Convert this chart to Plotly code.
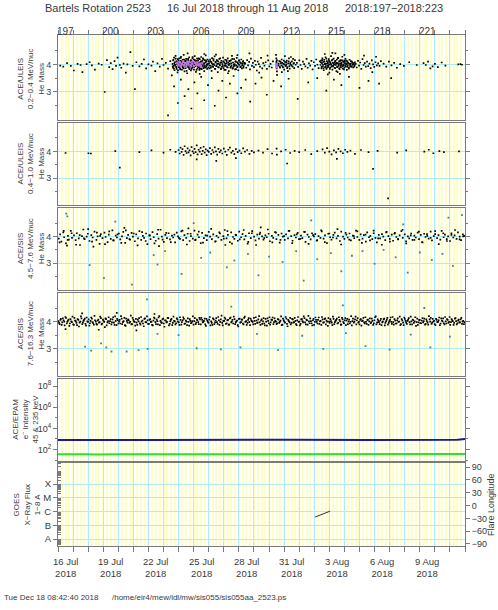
import plotly.graph_objects as go

# ---------------- data (day of year 2018) ----------------
# ACE/ULEIS 0.2-0.4 MeV/nuc He mass
he1_doy = [
    197.15,197.35,197.60,197.85,198.05,198.30,198.50,198.62,198.90,199.10,
    199.25,199.45,199.70,199.90,200.10,200.25,200.40,200.50,200.62,200.75,
    200.85,200.95,201.10,201.20,201.35,201.50,201.60,201.80,201.95,202.10,
    202.20,202.40,202.55,202.70,202.85,203.00,203.20,203.30,203.45,203.60,
    203.75,203.90,204.00,204.15,204.30,204.45,204.55,
    204.60,204.63,204.64,204.68,204.70,204.73,204.75,204.76,204.80,204.83,
    204.85,204.87,204.90,204.93,204.95,204.97,205.00,205.02,205.05,205.07,
    205.10,205.12,205.15,205.16,205.20,205.22,205.24,205.27,205.30,205.31,
    205.34,205.37,205.39,205.42,205.44,205.46,205.50,205.52,205.54,205.57,
    205.59,205.62,205.64,205.66,205.70,205.72,205.75,205.77,205.79,205.82,
    205.84,205.87,205.90,205.92,205.94,205.97,206.00,206.02,206.05,206.07,
    206.10,206.13,206.15,206.17,206.20,206.23,206.25,206.28,206.30,206.33,
    206.35,206.38,206.40,206.43,206.45,206.48,206.50,206.52,206.55,206.58,
    206.60,206.62,206.65,206.68,206.70,206.73,206.75,206.78,206.80,206.83,
    206.85,206.88,206.90,206.92,206.95,206.97,206.99,206.70,206.40,205.60,
    204.61,204.66,204.69,204.72,204.78,204.81,204.86,204.88,204.92,204.96,
    204.99,205.04,205.09,205.11,205.14,205.18,205.21,205.26,205.29,205.33,
    205.36,205.41,205.45,205.48,205.53,205.55,205.60,205.63,205.68,205.71,
    205.74,205.78,205.81,205.86,205.89,205.93,205.96,206.01,206.04,206.08,
    206.12,206.16,206.19,206.22,206.27,206.31,206.34,206.39,206.42,206.46,
    206.49,206.53,206.57,206.61,206.64,206.69,206.72,206.77,206.82,206.87,
    207.02,207.05,207.09,207.12,207.15,207.19,207.22,207.26,207.29,207.32,
    207.36,207.39,207.43,207.46,207.50,207.53,207.56,207.60,207.63,207.67,
    207.70,207.74,207.77,207.81,207.84,207.88,207.91,207.95,207.98,208.02,
    208.05,208.09,208.12,208.16,208.19,208.23,208.26,208.30,208.33,208.37,
    208.40,208.44,208.47,208.51,208.54,208.58,208.61,208.65,208.68,208.72,
    208.75,208.79,208.82,208.86,208.89,208.93,208.96,209.00,209.04,209.08,
    209.12,209.16,209.20,209.24,209.28,209.32,209.36,207.48,208.28,208.90,
    207.04,207.10,207.14,207.20,207.24,207.31,207.34,207.41,207.45,207.51,
    207.55,207.62,207.65,207.72,207.76,207.83,207.86,207.93,207.97,208.04,
    208.08,208.14,208.18,208.25,208.29,208.35,208.39,208.46,208.50,208.56,
    208.60,208.67,208.71,208.77,208.81,208.88,208.92,208.98,209.02,209.10,
    209.14,209.22,209.26,209.30,209.38,
    209.42,209.49,209.55,209.61,209.68,209.74,209.80,209.87,209.93,210.00,
    210.06,210.12,210.19,210.25,210.32,210.40,210.47,210.55,210.62,210.70,
    210.78,210.86,210.94,211.02,211.10,211.18,211.26,209.70,210.35,210.90,
    211.46,211.48,211.49,211.50,211.51,211.52,211.53,211.50,211.49,211.52,
    211.62,211.68,211.73,211.79,211.84,211.90,211.95,212.01,212.06,212.12,
    212.17,212.22,212.27,212.32,212.37,212.42,212.47,212.52,212.57,212.62,
    212.67,212.72,212.77,212.05,212.25,212.45,211.85,212.35,212.60,212.15,
    211.64,211.71,211.76,211.82,211.88,211.93,211.98,212.03,212.09,212.14,
    212.20,212.30,212.40,212.50,212.65,
    212.85,212.93,213.01,213.09,213.17,213.25,213.33,213.41,213.49,213.57,
    213.65,213.73,213.81,213.89,213.97,214.05,214.13,214.21,214.29,214.37,
    214.42,214.45,214.48,214.51,214.54,214.57,214.60,214.63,214.66,214.69,
    214.72,214.75,214.78,214.81,214.84,214.87,214.90,214.93,214.96,214.99,
    215.02,215.05,215.08,215.11,215.14,215.17,215.20,215.23,215.26,215.29,
    215.32,215.35,215.38,215.41,215.44,215.47,215.50,215.53,215.56,215.59,
    215.62,215.65,215.68,215.71,215.74,215.77,215.80,215.83,215.86,215.89,
    215.92,215.95,215.98,216.01,216.04,216.07,216.10,216.13,216.16,216.19,
    216.22,216.26,216.30,216.34,216.38,216.42,216.46,216.50,216.55,216.60,
    216.65,216.69,214.70,215.00,215.40,215.70,216.00,214.90,215.55,215.20,
    214.44,214.49,214.53,214.58,214.62,214.67,214.71,214.76,214.80,214.85,
    214.89,214.94,214.98,215.03,215.07,215.12,215.16,215.21,215.25,215.30,
    215.34,215.39,215.43,215.48,215.52,215.57,215.61,215.66,215.70,215.75,
    215.79,215.84,215.88,215.93,215.97,216.02,216.06,216.11,216.15,216.20,
    216.24,216.29,216.33,216.38,216.43,216.48,216.53,216.58,216.63,216.68,
    216.75,216.82,216.90,216.97,217.05,217.12,217.20,217.27,217.35,217.42,
    217.50,217.58,217.66,217.74,217.82,217.90,217.98,218.06,218.15,218.24,
    218.33,218.42,217.30,217.85,218.10,
    218.60,218.78,218.95,219.12,219.30,219.48,219.70,219.95,220.30,220.80,
    221.25,221.40,221.55,221.70,221.85,222.00,222.20,222.45,222.70,223.55,223.70,223.80,
    204.30,204.70,204.95,205.15,205.40,205.65,205.85,206.05,206.25,206.50,
    206.70,206.95,207.20,207.40,207.65,207.90,208.15,208.40,208.65,208.90,
    209.15,209.45,209.75,210.10,210.50,210.85,211.30,211.80,212.30,212.90,
    213.60,214.20,214.80,215.30,215.80,216.30,217.00,217.60,218.30,219.10,
]
he1_mass = [
    3.96,3.92,4.05,3.95,3.78,4.02,3.98,3.72,4.01,4.08,
    3.97,3.81,4.03,3.99,3.00,4.16,3.90,4.05,3.83,4.12,
    3.95,4.25,3.98,3.88,4.03,3.70,4.00,4.45,3.95,3.10,
    4.08,3.93,4.02,4.18,3.86,4.00,3.96,4.10,3.76,4.04,
    3.92,4.20,3.98,4.06,3.85,4.12,3.60,
    4.02,3.88,4.15,3.95,4.25,3.79,4.08,3.99,4.31,3.92,
    4.11,3.84,4.03,3.71,4.19,3.97,4.06,3.90,4.22,4.00,
    3.86,4.13,3.94,4.28,4.05,3.81,3.98,4.17,3.89,4.09,
    4.35,3.96,3.75,4.12,4.01,3.87,4.20,3.93,4.07,3.68,
    4.04,3.91,4.16,3.98,4.26,3.83,4.10,3.95,4.02,3.78,
    4.14,3.99,3.88,4.23,4.05,3.92,4.18,3.81,4.00,4.30,
    3.94,4.08,3.73,4.12,3.97,4.21,3.86,4.03,4.15,3.90,
    4.06,3.80,4.19,3.96,4.09,3.85,4.27,4.01,3.93,4.13,
    3.98,4.22,3.87,4.04,3.76,4.16,3.95,4.08,4.33,3.91,
    4.10,3.97,3.84,4.18,4.02,3.89,4.12,4.38,3.66,4.40,
    3.93,4.17,3.85,4.04,3.98,4.21,3.89,4.10,4.01,3.79,
    4.14,3.95,4.07,3.82,4.24,3.99,4.11,3.91,4.03,3.86,
    4.18,4.00,3.94,4.13,3.77,4.06,3.97,4.20,3.88,4.09,
    4.02,3.92,4.15,3.84,4.05,4.27,3.96,4.08,3.90,4.16,
    3.99,4.04,3.80,4.12,3.93,4.07,4.22,3.87,4.01,3.95,
    4.11,3.83,4.06,3.98,4.19,3.91,4.03,3.88,4.14,4.00,
    4.05,3.86,4.18,3.95,4.09,3.77,4.23,4.00,3.91,4.14,
    3.98,4.29,3.84,4.07,3.94,4.16,4.02,3.72,4.11,3.89,
    4.20,3.97,4.06,3.83,4.13,3.92,4.01,4.25,3.87,4.08,
    3.95,4.17,3.80,4.04,4.10,3.90,4.22,3.99,3.76,4.12,
    4.03,3.88,4.15,3.96,4.31,3.85,4.07,3.93,4.19,4.00,
    3.82,4.11,3.97,4.24,3.90,4.05,3.79,4.14,3.98,4.08,
    3.92,4.18,3.86,4.02,4.12,3.94,4.06,4.36,3.68,4.34,
    3.97,4.12,3.88,4.05,3.93,4.19,4.01,3.84,4.09,3.96,
    4.14,3.90,4.03,3.99,4.22,3.86,4.07,3.94,4.11,3.80,
    4.02,3.95,4.16,3.89,4.06,3.98,4.13,3.91,4.04,4.20,
    3.87,4.00,3.96,4.10,3.83,4.08,3.93,4.01,4.15,3.90,
    4.05,3.97,4.09,3.88,4.02,
    4.04,3.88,4.16,3.97,4.09,3.82,4.21,3.95,4.06,3.90,
    4.13,3.99,3.78,4.10,4.01,3.92,4.24,3.86,4.05,3.96,
    4.08,3.84,4.15,3.93,4.02,3.89,4.11,4.40,3.70,4.32,
    4.35,4.22,4.10,3.98,3.86,3.75,3.62,4.05,3.92,4.16,
    3.97,4.12,3.88,4.05,4.18,3.93,4.02,3.81,4.09,3.96,
    4.14,3.90,4.04,4.22,3.85,4.07,3.98,4.11,3.92,4.03,
    3.87,4.16,3.99,4.30,3.76,4.27,3.72,3.94,4.20,4.00,
    4.03,3.92,4.10,3.97,4.06,3.89,4.14,4.00,3.95,4.08,
    3.87,4.11,4.02,3.96,4.05,
    4.06,3.91,4.15,3.98,3.84,4.10,4.01,3.93,4.20,3.88,
    4.04,3.96,4.13,3.82,4.08,3.95,4.18,3.99,3.87,4.11,
    3.98,4.14,3.86,4.05,4.22,3.93,4.09,3.79,4.17,4.01,
    3.90,4.26,4.03,3.84,4.12,3.97,4.07,3.91,4.19,4.00,
    4.10,3.88,4.02,4.30,3.94,4.15,3.81,4.06,3.96,4.21,
    3.99,4.08,3.87,4.13,4.03,3.76,4.18,3.92,4.05,4.24,
    3.95,4.11,3.83,4.02,4.16,3.90,4.07,3.98,4.28,3.85,
    4.09,3.96,4.14,3.89,4.04,4.20,3.93,4.01,3.80,4.12,
    3.97,4.06,3.88,4.17,3.94,4.03,3.91,4.10,3.99,4.05,
    3.92,4.08,4.38,3.70,4.40,3.66,4.35,3.64,3.72,4.42,
    4.07,3.91,4.16,3.99,3.86,4.10,4.02,3.94,4.21,3.89,
    4.05,3.97,4.13,3.84,4.08,4.00,3.92,4.18,3.95,4.04,
    3.88,4.12,3.98,4.06,3.90,4.24,4.01,3.87,4.11,3.96,
    4.03,4.15,3.93,4.00,3.82,4.09,3.97,4.14,4.04,3.91,
    4.07,3.85,4.02,3.99,4.12,3.94,4.06,3.89,4.01,3.96,
    4.02,3.89,4.13,3.96,4.07,3.84,4.19,3.98,4.05,3.92,
    4.10,3.94,4.03,3.87,4.15,4.00,3.91,4.08,3.97,4.04,
    3.95,4.12,4.32,3.72,4.28,
    4.03,3.92,4.10,3.97,4.06,3.88,4.01,3.95,4.08,3.98,
    4.05,3.98,4.10,3.86,3.93,4.02,3.90,4.07,3.96,4.00,4.01,3.99,
    2.15,3.20,2.60,3.45,2.85,3.10,2.40,3.35,2.95,3.55,
    2.70,3.25,3.50,2.50,3.05,3.40,2.80,3.30,3.58,2.95,
    3.15,3.45,2.65,3.30,3.52,2.90,3.40,3.20,3.48,2.75,
    3.35,3.50,3.05,3.45,3.25,3.55,3.15,3.40,3.30,3.50,
]
# violet-coded events in the 0.2-0.4 MeV/nuc channel
he1_violet_doy = [
    204.92,205.00,205.08,205.15,205.22,205.30,205.36,205.44,205.50,205.58,
    205.65,205.72,205.80,205.88,205.95,206.02,206.10,206.18,206.25,206.32,
    206.40,206.48,206.55,211.50,211.51,
]
he1_violet_mass = [
    4.05,3.98,4.08,3.95,4.02,4.10,3.97,4.04,3.93,4.06,
    4.00,4.09,3.96,4.03,4.11,3.94,4.05,3.99,4.07,3.97,
    4.02,3.95,4.04,4.00,3.90,
]

# ACE/ULEIS 0.4-1.0 MeV/nuc He mass
he2_doy = [
    197.50,199.02,199.18,200.80,201.10,202.40,203.20,204.00,204.45,204.80,
    205.00,205.07,205.13,205.20,205.26,205.33,205.40,205.46,205.53,205.60,
    205.66,205.73,205.80,205.86,205.93,206.00,206.06,206.13,206.20,206.26,
    206.33,206.40,206.46,206.53,206.60,206.66,206.73,206.80,206.86,206.93,
    207.00,207.08,207.16,207.24,207.32,207.40,207.48,207.56,207.64,207.72,
    207.80,207.90,208.00,208.10,208.20,208.30,208.40,208.50,208.60,208.70,
    208.80,208.92,209.04,209.16,209.28,209.40,209.55,209.70,209.85,210.00,
    210.30,210.60,210.90,211.20,211.50,211.52,211.80,212.10,212.40,212.70,
    213.00,213.40,213.80,214.20,214.55,214.70,214.85,215.00,215.15,215.30,
    215.45,215.60,215.75,215.90,216.05,216.20,216.40,216.70,217.10,217.60,
    218.20,218.90,219.50,220.10,221.30,221.60,221.90,222.30,222.60,223.60,
    206.20,207.50,208.80,215.50,212.20,217.90,
]
he2_mass = [
    3.94,3.93,3.92,4.01,3.40,3.97,4.04,3.95,4.06,3.98,
    4.05,3.92,4.14,3.98,4.08,3.87,4.19,4.01,3.94,4.11,
    3.96,4.04,3.85,4.16,4.00,3.93,4.09,3.97,4.22,3.89,
    4.06,3.99,4.13,3.90,4.02,4.17,3.95,4.07,3.86,4.03,
    3.98,4.12,3.91,4.05,3.96,4.15,4.00,3.88,4.09,3.97,
    4.04,3.92,4.10,3.99,3.87,4.06,4.14,3.95,4.02,3.90,
    4.08,3.97,4.03,3.93,4.11,3.99,4.05,3.91,4.02,3.96,
    4.03,3.95,4.08,3.92,4.10,3.88,4.00,4.06,3.94,4.02,
    3.97,4.05,3.90,4.01,4.07,3.95,4.12,3.99,3.89,4.04,
    3.96,4.09,4.00,3.93,4.06,3.98,4.03,3.91,4.05,3.97,
    4.02,2.26,3.95,4.04,3.99,4.06,3.93,4.01,3.97,4.00,
    3.70,3.65,3.75,3.72,3.55,3.35,
]

# ACE/SIS 4.5-7.6 MeV/nuc He mass
he3_doy = [
    197.05,197.14,197.22,197.35,197.41,197.53,197.66,197.72,197.85,197.93,
    198.06,198.17,198.25,198.38,198.46,198.59,198.68,198.77,198.90,198.98,
    199.09,199.21,199.30,199.42,199.55,199.63,199.76,199.84,199.95,200.08,
    200.16,200.29,200.37,200.50,200.61,200.70,200.83,200.91,201.04,201.13,
    201.25,201.33,201.46,201.57,201.65,201.78,201.88,201.97,202.10,202.19,
    202.31,202.40,202.52,202.63,202.71,202.84,202.93,203.05,203.14,203.27,
    203.35,203.48,203.58,203.67,203.80,203.89,204.02,204.12,204.23,204.34,
    204.43,204.56,204.64,204.77,204.88,204.96,205.09,205.18,205.30,205.39,
    205.51,205.60,205.73,205.82,205.94,206.05,206.13,206.26,206.35,206.47,
    206.56,206.68,206.79,206.87,207.00,207.09,207.21,207.30,207.43,207.52,
    207.64,207.75,207.84,207.97,208.06,208.18,208.27,208.40,208.49,208.61,
    208.70,208.82,208.93,209.02,209.15,209.24,209.36,209.45,209.58,209.67,
    209.79,209.88,210.01,210.10,210.22,210.33,210.41,210.54,210.63,210.76,
    210.85,210.97,211.06,211.19,211.28,211.40,211.49,211.62,211.71,211.83,
    211.92,212.04,212.13,212.26,212.35,212.47,212.56,212.69,212.78,212.90,
    212.99,213.12,213.21,213.33,213.42,213.55,213.64,213.76,213.85,213.98,
    214.07,214.19,214.28,214.41,214.50,214.62,214.71,214.84,214.93,215.05,
    215.14,215.27,215.36,215.48,215.57,215.70,215.79,215.91,216.00,216.13,
    216.22,216.34,216.43,216.56,216.65,216.77,216.86,216.99,217.08,217.20,
    217.29,217.42,217.51,217.63,217.72,217.85,217.94,218.06,218.15,218.28,
    218.37,218.49,218.58,218.71,218.80,218.92,219.01,219.14,219.23,219.35,
    219.44,219.57,219.66,219.78,219.87,220.00,220.09,220.21,220.30,220.43,
    220.52,220.64,220.73,220.86,220.95,221.07,221.16,221.29,221.38,221.50,
    221.59,221.72,221.81,221.93,222.02,222.15,222.24,222.36,222.45,222.58,
    222.67,222.79,222.88,223.01,223.10,223.22,223.31,223.44,223.53,223.65,
    223.74,223.86,223.95,197.60,199.35,201.40,203.70,205.65,208.10,210.45,
    197.10,197.38,197.64,197.90,198.20,198.44,198.72,199.00,199.26,199.58,
    199.80,200.12,200.40,200.66,200.95,201.20,201.50,201.74,202.02,202.28,
    202.58,202.82,203.10,203.40,203.64,203.94,204.18,204.48,204.72,205.02,
    205.26,205.55,205.80,206.10,206.34,206.62,206.90,207.16,207.46,207.70,
    208.00,208.24,208.54,208.78,209.06,209.32,209.62,209.86,210.14,210.38,
    210.68,210.92,211.22,211.46,211.76,212.00,212.30,212.54,212.84,213.08,
    213.38,213.62,213.92,214.16,214.46,214.70,215.00,215.24,215.54,215.78,
    216.08,216.32,216.62,216.86,217.16,217.40,217.70,217.94,218.24,218.48,
    218.78,219.02,219.32,219.56,219.86,220.10,220.40,220.64,220.94,221.18,
    221.48,221.72,222.02,222.26,222.56,222.80,223.10,223.34,223.64,223.88,
]
he3_mass = [
    3.92,4.08,3.81,4.15,3.97,3.74,4.02,3.88,4.21,3.95,
    4.04,3.86,4.12,3.93,3.68,4.01,4.26,3.90,3.99,4.10,
    3.83,4.05,3.96,4.18,3.87,4.00,3.72,4.09,3.94,4.14,
    3.98,3.79,4.07,3.91,4.23,3.85,4.03,3.96,4.11,3.89,
    4.00,4.17,3.76,3.94,4.06,3.88,4.13,3.99,3.82,4.08,
    3.93,4.20,3.87,4.02,3.95,4.11,3.71,4.04,3.90,4.16,
    3.97,3.84,4.09,3.92,4.25,3.99,3.80,4.06,3.94,4.12,
    3.89,4.03,3.96,3.78,4.14,4.00,3.91,4.19,3.86,4.05,
    3.95,4.10,3.83,4.01,3.92,4.22,3.88,4.07,3.97,3.75,
    4.13,3.94,4.04,3.86,4.17,3.99,3.90,4.08,3.81,4.02,
    3.96,4.11,3.87,4.01,4.24,3.93,4.06,3.79,4.15,3.98,
    3.91,4.05,3.84,4.18,3.97,4.09,3.89,4.02,3.73,4.12,
    3.94,4.20,3.99,3.85,4.07,3.92,4.14,4.00,3.88,4.04,
    3.97,4.10,3.82,4.02,3.95,4.16,3.90,4.06,3.77,4.11,
    3.99,3.87,4.08,3.93,4.21,4.01,3.84,4.05,3.96,4.13,
    3.90,4.03,3.94,4.17,3.80,4.07,3.98,3.89,4.12,4.00,
    4.09,3.86,4.01,3.95,4.19,3.92,4.04,3.75,4.10,3.97,
    3.88,4.06,4.14,3.93,4.02,3.83,4.18,3.99,3.91,4.07,
    3.96,4.11,3.85,4.03,3.94,4.22,3.98,3.87,4.08,3.92,
    4.05,3.81,4.15,3.97,4.02,3.90,4.12,3.95,3.78,4.06,
    3.93,4.09,3.99,3.86,4.17,4.01,3.91,4.07,3.84,4.13,
    3.98,3.89,4.04,4.20,3.95,4.08,3.82,4.00,3.93,4.11,
    3.87,4.03,3.96,4.14,3.90,4.06,3.79,4.10,3.98,4.02,
    3.92,4.18,3.85,4.01,4.09,3.94,4.05,3.88,4.21,3.97,
    4.07,3.90,4.00,3.83,4.12,3.96,4.04,3.91,4.15,3.99,
    3.86,4.08,4.02,3.66,3.62,4.32,3.64,4.30,3.68,4.34,
    3.78,4.21,3.87,4.12,3.69,4.05,3.93,4.27,3.81,4.14,
    4.02,3.71,4.19,3.85,4.08,3.76,4.23,3.90,4.11,3.67,
    4.16,3.83,4.04,3.74,4.25,3.88,4.13,3.79,4.07,3.95,
    4.22,3.70,4.10,3.86,4.18,3.77,4.03,4.28,3.82,4.15,
    3.92,4.20,3.73,4.06,3.89,4.24,3.80,4.12,3.68,4.09,
    3.94,4.26,3.78,4.14,3.87,4.01,4.21,3.75,4.08,3.91,
    4.17,3.72,4.05,3.84,4.23,3.79,4.11,3.96,4.27,3.70,
    4.13,3.88,4.02,4.19,3.76,4.07,3.85,4.22,3.93,3.69,
    4.15,3.81,4.10,3.90,4.25,3.74,4.04,3.87,4.18,3.78,
    4.09,3.95,4.20,3.71,4.12,3.83,4.06,4.24,3.89,4.00,
]
he3_out_doy = [
    197.55,197.62,199.10,200.05,201.90,203.35,203.60,204.10,205.20,206.50,
    207.10,208.20,208.70,209.60,210.30,211.00,211.90,212.80,213.30,214.20,
    215.10,215.80,216.50,217.20,218.00,218.60,219.40,220.20,221.00,221.80,
    222.50,223.20,223.80,200.80,206.00,213.80,219.90,222.90,
]
he3_out_mass = [
    4.85,4.75,2.93,2.45,2.20,3.30,2.95,3.45,2.60,3.20,
    3.40,2.85,3.10,3.35,2.55,3.25,3.05,3.45,2.35,3.15,
    3.38,2.70,3.28,3.45,2.98,3.50,3.22,2.65,3.40,3.12,
    3.35,2.90,4.80,4.55,4.50,4.60,4.45,4.70,
]

# ACE/SIS 7.6-16.3 MeV/nuc He mass
he4_doy = [
    197.03,197.11,197.19,197.28,197.37,197.44,197.53,197.62,197.70,197.79,
    197.88,197.96,198.05,198.13,198.22,198.30,198.39,198.48,198.56,198.65,
    198.73,198.82,198.90,198.99,199.08,199.16,199.25,199.33,199.42,199.51,
    199.59,199.68,199.76,199.85,199.93,200.02,200.11,200.19,200.28,200.36,
    200.45,200.54,200.62,200.71,200.79,200.88,200.97,201.05,201.14,201.22,
    201.31,201.40,201.48,201.57,201.65,201.74,201.83,201.91,202.00,202.08,
    202.17,202.26,202.34,202.43,202.51,202.60,202.69,202.77,202.86,202.94,
    203.03,203.12,203.20,203.29,203.37,203.46,203.55,203.63,203.72,203.80,
    203.89,203.98,204.06,204.15,204.23,204.32,204.41,204.49,204.58,204.66,
    204.75,204.84,204.92,205.01,205.09,205.18,205.27,205.35,205.44,205.52,
    205.61,205.70,205.78,205.87,205.95,206.04,206.13,206.21,206.30,206.38,
    206.47,206.56,206.64,206.73,206.81,206.90,206.99,207.07,207.16,207.24,
    207.33,207.42,207.50,207.59,207.67,207.76,207.85,207.93,208.02,208.10,
    208.19,208.28,208.36,208.45,208.53,208.62,208.71,208.79,208.88,208.96,
    209.05,209.14,209.22,209.31,209.39,209.48,209.57,209.65,209.74,209.82,
    209.91,210.00,210.08,210.17,210.25,210.34,210.43,210.51,210.60,210.68,
    210.77,210.86,210.94,211.03,211.11,211.20,211.29,211.37,211.46,211.54,
    211.63,211.72,211.80,211.89,211.97,212.06,212.15,212.23,212.32,212.40,
    212.49,212.58,212.66,212.75,212.83,212.92,213.01,213.09,213.18,213.26,
    213.35,213.44,213.52,213.61,213.69,213.78,213.87,213.95,214.04,214.12,
    214.21,214.30,214.38,214.47,214.55,214.64,214.73,214.81,214.90,214.98,
    215.07,215.16,215.24,215.33,215.41,215.50,215.59,215.67,215.76,215.84,
    215.93,216.02,216.10,216.19,216.27,216.36,216.45,216.53,216.62,216.70,
    216.79,216.88,216.96,217.05,217.13,217.22,217.31,217.39,217.48,217.56,
    217.65,217.74,217.82,217.91,217.99,218.08,218.17,218.25,218.34,218.42,
    218.51,218.60,218.68,218.77,218.85,218.94,219.03,219.11,219.20,219.28,
    219.37,219.46,219.54,219.63,219.71,219.80,219.89,219.97,220.06,220.14,
    220.23,220.32,220.40,220.49,220.57,220.66,220.75,220.83,220.92,221.00,
    221.09,221.18,221.26,221.35,221.43,221.52,221.61,221.69,221.78,221.86,
    221.95,222.04,222.12,222.21,222.29,222.38,222.47,222.55,222.64,222.72,
    222.81,222.90,222.98,223.07,223.15,223.24,223.33,223.41,223.50,223.58,
    223.67,223.76,223.84,223.93,197.50,198.60,199.70,200.90,202.20,203.40,
    197.07,197.16,197.24,197.32,197.41,197.49,197.58,197.66,197.75,197.83,
    197.92,198.01,198.09,198.18,198.26,198.35,198.43,198.52,198.61,198.69,
    198.78,198.86,198.95,199.03,199.12,199.20,199.29,199.38,199.46,199.55,
    199.63,199.72,199.80,199.89,199.98,200.06,200.15,200.23,200.32,200.40,
    200.49,200.58,200.66,200.75,200.83,200.92,201.01,201.09,201.18,201.26,
    201.35,201.44,201.52,201.61,201.69,201.78,201.87,201.95,202.04,202.12,
    202.21,202.30,202.38,202.47,202.55,202.64,202.73,202.81,202.90,202.98,
    203.07,203.16,203.24,203.33,203.41,203.50,203.59,203.67,203.76,203.84,
    203.93,204.02,204.10,204.19,204.27,204.36,204.45,204.53,204.62,204.70,
    204.79,204.88,204.96,205.05,205.13,205.22,205.31,205.39,205.48,205.56,
    205.65,205.74,205.82,205.91,205.99,206.08,206.17,206.25,206.34,206.42,
    206.51,206.60,206.68,206.77,206.85,206.94,207.03,207.11,207.20,207.28,
    207.37,207.46,207.54,207.63,207.71,207.80,207.89,207.97,208.06,208.14,
    208.23,208.32,208.40,208.49,208.57,208.66,208.75,208.83,208.92,209.00,
    209.09,209.18,209.26,209.35,209.43,209.52,209.61,209.69,209.78,209.86,
    209.95,210.04,210.12,210.21,210.29,210.38,210.47,210.55,210.64,210.72,
    210.81,210.90,210.98,211.07,211.15,211.24,211.33,211.41,211.50,211.58,
    211.67,211.76,211.84,211.93,212.01,212.10,212.19,212.27,212.36,212.44,
    212.53,212.62,212.70,212.79,212.87,212.96,213.05,213.13,213.22,213.30,
    213.39,213.48,213.56,213.65,213.73,213.82,213.91,213.99,214.08,214.16,
    214.25,214.34,214.42,214.51,214.59,214.68,214.77,214.85,214.94,215.02,
    215.11,215.20,215.28,215.37,215.45,215.54,215.63,215.71,215.80,215.88,
    215.97,216.06,216.14,216.23,216.31,216.40,216.49,216.57,216.66,216.74,
    216.83,216.92,217.00,217.09,217.17,217.26,217.35,217.43,217.52,217.60,
    217.69,217.78,217.86,217.95,218.03,218.12,218.21,218.29,218.38,218.46,
    218.55,218.64,218.72,218.81,218.89,218.98,219.07,219.15,219.24,219.32,
    219.41,219.50,219.58,219.67,219.75,219.84,219.93,220.01,220.10,220.18,
    220.27,220.36,220.44,220.53,220.61,220.70,220.79,220.87,220.96,221.04,
    221.13,221.22,221.30,221.39,221.47,221.56,221.65,221.73,221.82,221.90,
    221.99,222.08,222.16,222.25,222.33,222.42,222.51,222.59,222.68,222.76,
    222.85,222.94,223.02,223.11,223.19,223.28,223.37,223.45,223.54,223.62,
    223.71,223.80,223.88,223.97,
]
he4_mass = [
    4.02,3.91,4.10,3.97,4.05,3.86,4.14,3.99,4.07,3.93,
    4.01,4.18,3.88,4.04,3.95,4.09,3.82,4.00,4.12,3.96,
    4.06,3.92,4.15,3.99,3.85,4.03,4.11,3.94,4.21,4.00,
    3.89,4.07,3.98,4.13,3.93,4.04,3.80,4.09,3.97,4.16,
    4.02,3.90,4.08,3.96,4.19,3.87,4.05,4.00,3.93,4.11,
    3.98,4.14,3.84,4.03,4.08,3.95,4.22,3.91,4.06,3.99,
    4.10,3.88,4.01,3.94,4.17,4.04,3.83,4.12,3.97,4.05,
    3.92,4.09,4.00,3.86,4.15,3.98,4.07,3.90,4.20,4.03,
    3.95,4.11,3.81,4.04,3.99,4.13,3.92,4.06,3.87,4.18,
    4.01,3.94,4.08,3.97,4.16,3.89,4.05,4.10,3.93,4.00,
    4.12,3.85,4.03,3.96,4.19,4.02,3.91,4.07,3.98,4.14,
    3.90,4.06,3.99,4.11,3.84,4.04,3.95,4.17,4.01,3.88,
    4.08,3.97,4.13,3.92,4.05,3.99,4.22,3.86,4.03,4.10,
    3.94,4.06,3.89,4.15,4.00,3.93,4.09,3.97,4.04,3.82,
    4.11,3.98,4.07,3.90,4.18,4.02,3.95,4.13,3.87,4.05,
    3.99,4.14,3.92,4.04,3.96,4.20,3.88,4.08,4.01,3.93,
    4.10,3.85,4.03,4.16,3.97,4.06,3.91,4.12,4.00,3.94,
    4.07,3.99,4.19,3.89,4.05,3.96,4.11,3.83,4.02,4.14,
    3.95,4.08,3.98,4.03,3.87,4.17,4.00,3.92,4.09,3.97,
    4.13,3.90,4.05,4.21,3.94,4.02,3.86,4.10,3.99,4.06,
    3.93,4.15,4.01,3.88,4.08,3.97,4.12,4.04,3.84,4.00,
    4.09,3.96,4.18,3.91,4.03,4.11,3.95,4.06,3.89,4.14,
    3.98,4.05,3.87,4.10,4.00,3.93,4.20,4.02,3.96,4.08,
    3.90,4.13,3.99,4.06,3.85,4.04,3.97,4.16,3.92,4.07,
    4.01,3.94,4.11,3.88,4.05,4.19,3.96,4.03,3.91,4.10,
    3.97,4.08,3.86,4.02,4.14,3.95,4.06,3.99,4.17,3.89,
    4.04,3.93,4.12,4.00,3.87,4.09,3.96,4.15,4.03,3.92,
    4.07,3.98,4.18,3.90,4.05,4.01,3.84,4.11,3.97,4.06,
    3.94,4.13,4.02,3.89,4.08,3.96,4.20,4.00,3.92,4.10,
    4.03,3.87,4.06,3.99,4.15,3.93,4.04,4.12,3.90,4.01,
    4.09,3.95,4.17,3.98,4.05,3.88,4.11,4.02,3.94,4.07,
    3.97,4.14,4.00,3.91,3.72,4.30,3.70,4.32,3.68,4.28,
    3.95,4.06,3.88,4.12,4.00,4.17,3.93,4.04,3.84,4.09,
    3.98,3.90,4.14,4.02,3.87,4.06,3.96,4.19,3.91,4.03,
    4.11,3.85,4.01,4.08,3.94,4.15,3.98,3.89,4.05,3.92,
    4.04,3.96,4.18,3.90,4.07,3.99,4.12,3.86,4.02,3.94,
    4.09,3.97,4.16,3.88,4.03,4.10,3.93,4.06,4.20,3.91,
    4.02,3.87,4.11,3.96,4.05,3.99,3.90,4.14,4.01,3.85,
    3.96,4.07,4.13,3.89,4.00,3.93,4.10,3.98,4.19,3.92,
    4.06,3.99,3.88,4.04,4.12,3.91,4.02,4.15,3.87,3.97,
    4.08,3.93,4.05,3.97,4.14,3.86,4.01,4.10,3.95,4.03,
    3.90,4.12,4.00,3.88,4.06,3.98,4.16,3.92,4.04,3.87,
    3.99,4.09,3.94,4.02,3.89,4.13,3.96,4.05,3.91,4.08,
    4.14,3.97,4.03,3.90,4.10,3.99,4.07,3.86,3.95,4.12,
    3.91,4.04,3.98,4.17,3.88,4.08,3.95,4.03,4.15,3.92,
    4.05,3.89,4.12,3.97,4.06,4.18,3.91,4.01,3.87,4.10,
    3.96,4.07,3.93,4.14,3.99,3.88,4.06,3.98,4.11,4.02,
    3.90,4.03,4.16,3.95,4.08,3.97,4.04,3.92,4.13,3.86,
    4.00,4.12,3.94,3.89,4.07,4.15,3.98,4.03,3.91,4.09,
    3.95,4.04,3.87,4.11,4.00,4.17,3.92,4.06,3.97,3.90,
    4.10,3.96,4.14,3.91,4.05,3.99,3.86,4.08,4.02,4.19,
    3.97,4.07,3.89,4.01,4.12,3.94,4.05,3.88,4.15,3.99,
    4.06,3.92,4.03,4.17,3.96,4.09,3.90,4.00,4.13,3.95,
    4.02,3.87,4.10,3.98,4.06,3.93,4.16,4.01,3.89,4.08,
    3.94,4.13,4.04,3.91,4.07,3.99,3.86,4.11,4.00,4.18,
    4.05,3.96,3.90,4.09,4.02,4.14,3.93,3.99,4.06,3.88,
    4.12,3.97,4.03,3.94,4.16,3.90,4.08,3.98,4.04,3.87,
    4.00,4.11,3.95,4.07,3.89,4.02,4.15,3.92,3.98,4.09,
    3.93,4.05,3.99,4.18,3.91,4.04,3.87,4.10,3.96,4.03,
    4.13,3.90,4.01,4.07,3.95,4.16,3.98,3.88,4.06,3.94,
    4.04,3.97,4.11,3.92,4.02,3.89,4.08,4.14,3.96,4.00,
    3.91,4.10,3.98,4.05,3.87,4.12,4.01,3.94,4.17,3.93,
    4.06,3.99,3.88,4.09,4.02,3.95,4.13,3.90,4.04,3.97,
    4.08,3.92,4.03,3.98,
]
he4_out_doy = [
    198.80,199.20,199.85,200.20,200.55,201.55,202.35,202.95,203.60,205.00,
    206.20,207.80,209.10,210.20,211.60,213.20,214.60,216.10,217.40,219.00,
    220.40,221.70,223.00,202.90,208.50,215.90,221.30,
]
he4_out_mass = [
    3.08,2.93,3.20,3.05,2.90,2.90,2.95,3.00,3.55,3.50,
    3.02,2.98,3.05,3.55,2.95,3.48,3.00,3.58,3.10,2.97,
    3.52,3.05,3.45,4.82,4.55,4.60,4.50,
]

# ACE/EPAM electron intensity (45 keV blue, 235 keV green)
epam_doy = [
    197.0,197.5,198.0,198.5,199.0,199.5,200.0,200.5,201.0,201.5,
    202.0,202.5,203.0,203.5,204.0,204.5,205.0,205.5,206.0,206.5,
    207.0,207.5,208.0,208.5,209.0,209.5,210.0,210.5,211.0,211.5,
    212.0,212.5,213.0,213.5,214.0,214.5,215.0,215.5,216.0,216.5,
    217.0,217.5,218.0,218.5,219.0,219.5,220.0,220.5,221.0,221.5,
    222.0,222.5,223.0,223.5,224.0,
]
epam_45kev = [
    790,800,795,805,790,770,755,745,760,780,
    790,800,795,790,800,805,810,800,795,805,
    815,820,810,825,830,840,850,845,855,850,
    840,830,840,850,845,830,820,815,810,820,
    825,815,810,805,800,810,805,800,795,800,
    805,800,810,850,980,
]
epam_235kev = [
    35,36,35,34,35,34,33,34,35,36,
    35,35,36,35,34,35,36,36,35,34,
    35,36,37,36,35,36,35,34,35,36,
    35,34,35,36,35,35,34,35,36,35,
    34,35,36,35,34,35,35,36,35,34,
    35,36,35,36,38,
]

# GOES flare longitude
flare_doy = [214.05, 215.05]
flare_lon = [-27, -13]

# axis labels
day_ticks = list(range(197, 225))
label_days = [197, 200, 203, 206, 209, 212, 215, 218, 221]
doy_labels = ["197", "200", "203", "206", "209", "212", "215", "218", "221"]
date_labels = ["16 Jul", "19 Jul", "22 Jul", "25 Jul", "28 Jul", "31 Jul", "3 Aug", "6 Aug", "9 Aug"]
year_label = "2018"
he_tickvals = [3, 4]
he_minor = [2.5, 3.5, 4.5]
epam_tickvals = [1e2, 1e4, 1e6, 1e8]
epam_ticktext = ["10<sup>2</sup>", "10<sup>4</sup>", "10<sup>6</sup>", "10<sup>8</sup>"]
epam_minor = [1e1, 1e3, 1e5, 1e7]
goes_tickvals = [1e-8, 1e-7, 1e-6, 1e-5, 1e-4]
goes_ticktext = ["A", "B", "C", "M", "X"]
lon_tickvals = [-90, -60, -30, 0, 30, 60, 90]
panel_titles = [
    "ACE/ULEIS<br>0.2\u22120.4 MeV/nuc<br>He Mass",
    "ACE/ULEIS<br>0.4\u22121.0 MeV/nuc<br>He Mass",
    "ACE/SIS<br>4.5\u22127.6 MeV/nuc<br>He Mass",
    "ACE/SIS<br>7.6\u221216.3 MeV/nuc<br>He Mass",
    "ACE/EPAM<br>e<sup>\u2212</sup> Intensity<br>45 & 235 keV",
    "GOES<br>X\u2212Ray Flux<br>1\u22128 A",
]

# ---------------- layout helpers ----------------
W, H = 498, 610
L, R, T, B = 58, 33, 35, 64
PLOT_H = H - T - B
PLOT_W = W - L - R


def py(p):
    return (H - B - p) / PLOT_H


def px(p):
    return (p - L) / PLOT_W


FONT = "Liberation Sans, Arial, sans-serif"
TXT = "#3a3a3a"
LINE = "#7a7a7a"
CYAN = "#b0ecf2"
YEL = "#fefec8"

domains = [
    [py(119.5), 1.0],
    [py(205.3), py(122.5)],
    [py(290.0), py(207.8)],
    [py(376.0), py(292.5)],
    [py(460.5), py(378.5)],
    [0.0, py(463.2)],
]
panel_px = [(35, 119.5), (122.5, 205.3), (207.8, 290.0), (292.5, 376.0), (378.5, 460.5), (463.2, 546.0)]

fig = go.Figure()

mk = dict(size=1.7, symbol="square", color="black", line=dict(width=0))
mk_out = dict(size=1.8, symbol="square", color="#3f7f99", line=dict(width=0))
fig.add_trace(go.Scatter(x=he1_doy, y=he1_mass, mode="markers", marker=mk, xaxis="x", yaxis="y"))
fig.add_trace(go.Scatter(x=he1_violet_doy, y=he1_violet_mass, mode="markers",
                         marker=dict(size=2.4, symbol="square", color="#c272e6", line=dict(width=0)),
                         xaxis="x", yaxis="y"))
fig.add_trace(go.Scatter(x=he2_doy, y=he2_mass, mode="markers", marker=mk, xaxis="x2", yaxis="y2"))
fig.add_trace(go.Scatter(x=he3_doy, y=he3_mass, mode="markers", marker=mk, xaxis="x3", yaxis="y3"))
fig.add_trace(go.Scatter(x=he3_out_doy, y=he3_out_mass, mode="markers", marker=mk_out, xaxis="x3", yaxis="y3"))
fig.add_trace(go.Scatter(x=he4_doy, y=he4_mass, mode="markers", marker=mk, xaxis="x4", yaxis="y4"))
fig.add_trace(go.Scatter(x=he4_out_doy, y=he4_out_mass, mode="markers", marker=mk_out, xaxis="x4", yaxis="y4"))
fig.add_trace(go.Scatter(x=epam_doy, y=epam_45kev, mode="lines", line=dict(color="#1c1c90", width=2),
                         xaxis="x5", yaxis="y5"))
fig.add_trace(go.Scatter(x=epam_doy, y=epam_235kev, mode="lines", line=dict(color="#2fe02f", width=2),
                         xaxis="x5", yaxis="y5"))
fig.add_trace(go.Scatter(x=[], y=[], mode="lines", xaxis="x6", yaxis="y6"))
fig.add_trace(go.Scatter(x=flare_doy, y=flare_lon, mode="lines", line=dict(color="#333333", width=1),
                         xaxis="x6", yaxis="y7"))

layout = dict(
    width=W, height=H, margin=dict(l=L, r=R, t=T, b=B, autoexpand=False),
    paper_bgcolor="white", plot_bgcolor="white", showlegend=False,
    font=dict(family=FONT, size=9, color=TXT), hovermode=False,
)

for k in range(1, 7):
    xa = dict(
        domain=[0, 1], range=[197, 224], anchor="y" if k == 1 else f"y{k}",
        tickmode="array", tickvals=day_ticks, showticklabels=False, ticks="",
        showgrid=True, gridcolor=CYAN, gridwidth=1,
        minor=dict(tickmode="linear", tick0=197, dtick=0.25, showgrid=True, gridcolor=YEL, gridwidth=1.6, ticks=""),
        showline=True, linecolor=LINE, linewidth=1, mirror=True, zeroline=False,
    )
    if k == 1:
        xa.update(side="top", ticks="outside", ticklen=4, tickcolor=LINE)
    if k == 6:
        xa.update(ticks="outside", ticklen=5, tickcolor=LINE)
    if k > 1:
        xa["matches"] = "x"
    layout["xaxis" if k == 1 else f"xaxis{k}"] = xa

for k in range(1, 5):
    layout["yaxis" if k == 1 else f"yaxis{k}"] = dict(
        domain=domains[k - 1], range=[2.0, 5.07], anchor="x" if k == 1 else f"x{k}",
        tickmode="array", tickvals=he_tickvals, ticktext=[str(v) for v in he_tickvals],
        ticks="outside", ticklen=4, tickcolor=LINE, tickfont=dict(size=9, color=TXT),
        showgrid=True, gridcolor=CYAN, gridwidth=1,
        minor=dict(tickmode="array", tickvals=he_minor, ticks="outside", ticklen=2, tickcolor=LINE, showgrid=False),
        showline=True, linecolor=LINE, linewidth=1, mirror="ticks", zeroline=False,
    )

layout["yaxis5"] = dict(
    domain=domains[4], type="log", range=[0.96, 8.72], anchor="x5",
    tickmode="array", tickvals=epam_tickvals, ticktext=epam_ticktext,
    ticks="outside", ticklen=4, tickcolor=LINE, tickfont=dict(size=9, color=TXT),
    showgrid=False,
    minor=dict(tickmode="array", tickvals=epam_minor, ticks="outside", ticklen=2, tickcolor=LINE, showgrid=False),
    showline=True, linecolor=LINE, linewidth=1, mirror="ticks", zeroline=False,
)

goes_minor = [m * 10.0 ** e for e in range(-9, -2) for m in range(2, 10)]
layout["yaxis6"] = dict(
    domain=domains[5], type="log", range=[-8.51, -2.47], anchor="x6",
    tickmode="array", tickvals=goes_tickvals, ticktext=goes_ticktext,
    ticks="outside", ticklen=4, tickcolor=LINE, tickfont=dict(size=9.5, color=TXT),
    showgrid=True, gridcolor=CYAN, gridwidth=1,
    minor=dict(tickmode="array", tickvals=goes_minor, ticks="inside", ticklen=3, tickcolor=LINE, showgrid=False),
    showline=True, linecolor=LINE, linewidth=1, mirror=True, zeroline=False,
)
layout["yaxis7"] = dict(
    domain=domains[5], overlaying="y6", side="right", anchor="x6", range=[-94.7, 99.3],
    tickmode="array", tickvals=lon_tickvals, ticks="outside", ticklen=4, tickcolor=LINE,
    tickfont=dict(size=9, color=TXT), showgrid=False, showline=False, zeroline=False,
)

ann = []
# title
for txt, cx in [("Bartels Rotation 2523", 98), ("16 Jul 2018 through 11 Aug 2018", 247), ("2018:197\u22122018:223", 394)]:
    ann.append(dict(text=txt, x=px(cx), y=py(8), xref="paper", yref="paper", showarrow=False,
                    xanchor="center", yanchor="middle", font=dict(size=11, color=TXT)))
# top DOY labels
for d, t in zip(label_days, doy_labels):
    ann.append(dict(text=t, x=d + 0.5, y=py(32), xref="x", yref="paper", showarrow=False,
                    xanchor="center", yanchor="middle", font=dict(size=10, color=TXT)))
# bottom date labels
for d, t in zip(label_days, date_labels):
    ann.append(dict(text=t + "<br>" + year_label, x=d + 0.5, y=py(567.5), xref="x6", yref="paper",
                    showarrow=False, xanchor="center", yanchor="middle", font=dict(size=9.5, color=TXT)))
# panel y titles
title_x = [31, 31, 31, 31, 25, 27]
for i, t in enumerate(panel_titles):
    top, bot = panel_px[i]
    cy = (top + bot) / 2 + (2 if i == 0 else 0)
    ann.append(dict(text=t, x=px(title_x[i]), y=py(cy), xref="paper", yref="paper", showarrow=False,
                    textangle=-90, xanchor="center", yanchor="middle", font=dict(size=8, color=TXT)))
ann.append(dict(text="Flare Longitude", x=px(491), y=py(505), xref="paper", yref="paper", showarrow=False,
                textangle=-90, xanchor="center", yanchor="middle", font=dict(size=9, color=TXT)))
# footer
ann.append(dict(text="Tue Dec 18 08:42:40 2018", x=px(2), y=py(597), xref="paper", yref="paper", showarrow=False,
                xanchor="left", yanchor="middle", font=dict(size=8, color=TXT)))
ann.append(dict(text="/home/eir4/mew/idl/mw/sis055/sis055aa_2523.ps", x=px(110), y=py(597), xref="paper",
                yref="paper", showarrow=False, xanchor="left", yanchor="middle", font=dict(size=8, color=TXT)))
layout["annotations"] = ann

fig.update_layout(**layout)
fig.write_html("out.html", config={"displayModeBar": False},
               post_script="document.body.style.margin='0px';")
